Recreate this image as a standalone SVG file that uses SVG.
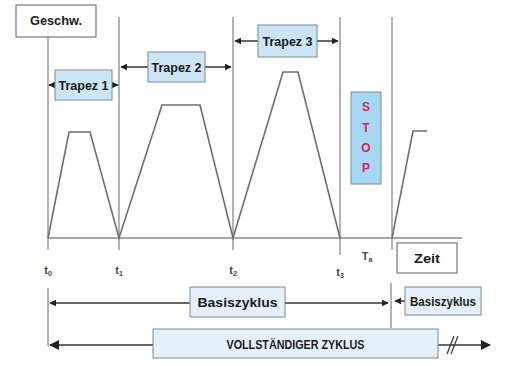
<svg xmlns="http://www.w3.org/2000/svg" width="506" height="366" viewBox="0 0 506 366">
<defs>
<style>
.grid{stroke:#8a8a8a;stroke-width:1.3;fill:none}
.curve{stroke:#6e6e6e;stroke-width:1.6;fill:none}
.arr{stroke:#333;stroke-width:1.5;fill:none}
.box{fill:#cde6f7;stroke:#7a8a96;stroke-width:1}
.box2{fill:#e4f1fb;stroke:#7a8a96;stroke-width:1}
.wbox{fill:#fff;stroke:#777;stroke-width:1.2}
.lbl{font-family:"Liberation Sans",Arial,sans-serif;font-weight:bold;font-size:13px;fill:#1a1a1a;text-anchor:middle}
.tl{font-family:"Liberation Sans",Arial,sans-serif;font-weight:bold;font-size:11px;fill:#444;text-anchor:middle}
.stop{font-family:"Liberation Sans",Arial,sans-serif;font-weight:bold;font-size:12px;fill:#e0205a;text-anchor:middle}
</style>
<marker id="ah" viewBox="0 0 10 10" refX="9" refY="5" markerWidth="7" markerHeight="7" markerUnits="userSpaceOnUse" orient="auto-start-reverse">
<path d="M0,0 L10,5 L0,10 z" fill="#222"/>
</marker>
<marker id="ahb" viewBox="0 0 10 10" refX="9" refY="5" markerWidth="10" markerHeight="10" markerUnits="userSpaceOnUse" orient="auto-start-reverse">
<path d="M0,0 L10,5 L0,10 z" fill="#222"/>
</marker>
</defs>
<rect width="506" height="366" fill="#fff"/>
<g id="connectors">
<line class="grid" x1="48" y1="37" x2="48" y2="250"/>
<line class="grid" x1="48" y1="288" x2="48" y2="346"/>
<line class="grid" x1="119" y1="17" x2="119" y2="250"/>
<line class="grid" x1="233" y1="17" x2="233" y2="250"/>
<line class="grid" x1="340" y1="17" x2="340" y2="255"/>
<line class="grid" x1="392" y1="17" x2="392" y2="250"/>
<line class="grid" x1="391" y1="283" x2="391" y2="328"/>
<line class="grid" x1="48" y1="238" x2="462" y2="238"/>
<polyline class="curve" points="48,238 69,132 90,132 119,238 162,105 200,105 233,238 283,72 298,72 340,238"/>
<polyline class="curve" points="392,238 413,131 427,131"/>
<line class="arr" x1="49" y1="85" x2="55" y2="85" marker-start="url(#ah)"/>
<line class="arr" x1="112" y1="85" x2="118" y2="85" marker-end="url(#ah)"/>
<line class="arr" x1="121" y1="67" x2="148" y2="67" marker-start="url(#ah)"/>
<line class="arr" x1="205" y1="67" x2="231" y2="67" marker-end="url(#ah)"/>
<line class="arr" x1="235" y1="41" x2="258" y2="41" marker-start="url(#ah)"/>
<line class="arr" x1="317" y1="41" x2="338" y2="41" marker-end="url(#ah)"/>
<line class="arr" x1="50" y1="303" x2="190" y2="303" marker-start="url(#ah)"/>
<line class="arr" x1="285" y1="303" x2="388" y2="303" marker-end="url(#ah)"/>
<line class="arr" x1="395" y1="301" x2="405" y2="301" marker-start="url(#ah)"/>
<line class="arr" x1="50" y1="345" x2="153" y2="345" stroke-width="2.2" marker-start="url(#ahb)"/>
<line class="arr" x1="438" y1="345" x2="490" y2="345" stroke-width="2.2" marker-end="url(#ahb)"/>
<line x1="447" y1="354" x2="454" y2="336" stroke="#333" stroke-width="1.2"/>
<line x1="451" y1="354" x2="458" y2="336" stroke="#333" stroke-width="1.2"/>
</g>
<g id="geschw"><rect class="wbox" x="16" y="5" width="80" height="32"/><text class="lbl" x="56" y="25" textLength="52" lengthAdjust="spacingAndGlyphs">Geschw.</text></g>
<g id="trapez1"><rect class="box" x="55" y="70" width="57" height="30"/><text class="lbl" x="83.5" y="90" textLength="50" lengthAdjust="spacingAndGlyphs">Trapez 1</text></g>
<g id="trapez2"><rect class="box" x="148" y="52" width="57" height="30"/><text class="lbl" x="176.5" y="72" textLength="50" lengthAdjust="spacingAndGlyphs">Trapez 2</text></g>
<g id="trapez3"><rect class="box" x="258" y="25" width="59" height="32"/><text class="lbl" x="287.5" y="46" textLength="50" lengthAdjust="spacingAndGlyphs">Trapez 3</text></g>
<g id="stop"><rect x="351" y="92" width="30" height="92" fill="#a6d8f3" stroke="#7a8a96"/>
<text class="stop" x="366" y="111">S</text><text class="stop" x="366" y="132">T</text><text class="stop" x="366" y="152">O</text><text class="stop" x="366" y="172">P</text></g>
<g id="zeit"><rect class="wbox" x="397" y="243" width="60" height="30"/><text class="lbl" x="427" y="263" textLength="26" lengthAdjust="spacingAndGlyphs">Zeit</text></g>
<g id="tlabels">
<text class="tl" x="48" y="274">t<tspan font-size="7" dy="2">0</tspan></text>
<text class="tl" x="119" y="274">t<tspan font-size="7" dy="2">1</tspan></text>
<text class="tl" x="233" y="274">t<tspan font-size="7" dy="2">2</tspan></text>
<text class="tl" x="340" y="276">t<tspan font-size="7" dy="2">3</tspan></text>
<text class="tl" x="367" y="260">T<tspan font-size="7" dy="2">a</tspan></text>
</g>
<g id="basis1"><rect class="box2" x="190" y="287" width="95" height="30"/><text class="lbl" x="237.5" y="307" textLength="80" lengthAdjust="spacingAndGlyphs">Basiszyklus</text></g>
<g id="basis2"><rect class="box2" x="405" y="287" width="76" height="28"/><text class="lbl" x="443" y="306" textLength="66" lengthAdjust="spacingAndGlyphs">Basiszyklus</text></g>
<g id="voll"><rect class="box2" x="153" y="329" width="285" height="29" stroke="#555" stroke-width="1.4"/><text class="lbl" x="295.5" y="349" textLength="138" lengthAdjust="spacingAndGlyphs">VOLLSTÄNDIGER ZYKLUS</text></g>
</svg>
